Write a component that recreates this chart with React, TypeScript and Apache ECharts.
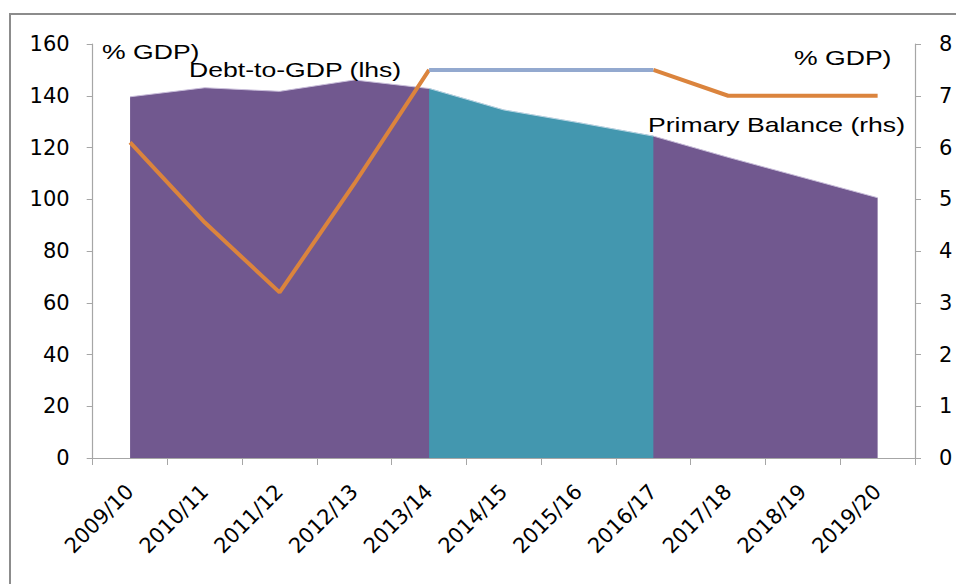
import React, { useEffect, useRef } from "react";
import * as echarts from "echarts";

const categories = [
  "2009/10", "2010/11", "2011/12", "2012/13", "2013/14", "2014/15",
  "2015/16", "2016/17", "2017/18", "2018/19", "2019/20",
];
// Debt-to-GDP (% GDP, left axis)
const debtToGdp = [139.6, 143.1, 141.7, 146.1, 142.8, 134.5, 129.6, 124.4, 116.2, 108.4, 100.6];
// Highlighted projection window of debt (2013/14 - 2016/17)
const debtHighlight = ["-", "-", "-", "-", 142.8, 134.5, 129.6, 124.4, "-", "-", "-"];
// Primary balance (% GDP, right axis)
const primaryBalance = [6.1, 4.55, 3.2, 5.3, 7.5, "-", "-", 7.5, 7.0, 7.0, 7.0];
const primaryHighlight = ["-", "-", "-", "-", 7.5, 7.5, 7.5, 7.5, "-", "-", "-"];
const leftTicks = { min: 0, max: 160, interval: 20 };
const rightTicks = { min: 0, max: 8, interval: 1 };

const PURPLE = "#71588F";
const TEAL = "#4397AF";
const ORANGE = "#DB843D";
const BLUE = "#93A9CF";
const AXIS = "#A6A6A6";
const LABEL_FONT = "DejaVu Sans";
const TEXT_FONT = "Liberation Sans";

export default function App() {
  const ref = useRef<HTMLDivElement>(null);
  useEffect(() => {
    if (!ref.current) return;
    const chart = echarts.init(ref.current, null, { renderer: "svg" });
    const axisLabel = { color: "#000", fontFamily: LABEL_FONT, fontSize: 21 };
    const txt = (text: string, x: number, y: number) => ({
      type: "text",
      x,
      y,
      scaleX: 1.33,
      z: 100,
      style: { text, fill: "#000", font: `20px "${TEXT_FONT}"` },
    });
    chart.setOption({
      animation: false,
      backgroundColor: "#fff",
      grid: { left: 92.7, right: 41, top: 44, bottom: 126 },
      xAxis: {
        type: "category",
        data: categories,
        boundaryGap: true,
        axisLine: { lineStyle: { color: AXIS, width: 1.2 } },
        axisTick: { show: true, length: 7, lineStyle: { color: AXIS }, alignWithLabel: false },
        axisLabel: { ...axisLabel, rotate: 45, margin: 30, interval: 0 },
        splitLine: { show: false },
      },
      yAxis: [
        {
          type: "value",
          position: "left",
          ...leftTicks,
          axisLine: { show: true, lineStyle: { color: AXIS, width: 1.2 } },
          axisTick: { show: true, length: 6, lineStyle: { color: AXIS } },
          axisLabel: { ...axisLabel, margin: 23 },
          splitLine: { show: false },
        },
        {
          type: "value",
          position: "right",
          ...rightTicks,
          axisLine: { show: true, lineStyle: { color: AXIS, width: 1.2 } },
          axisTick: { show: true, length: 6, lineStyle: { color: AXIS } },
          axisLabel: { ...axisLabel, margin: 24 },
          splitLine: { show: false },
        },
      ],
      series: [
        {
          name: "Debt-to-GDP (lhs)",
          type: "line",
          yAxisIndex: 0,
          data: debtToGdp,
          symbol: "none",
          lineStyle: { width: 1, color: "#C9BEDA" },
          areaStyle: { color: PURPLE, opacity: 1 },
          z: 1,
        },
        {
          name: "Debt-to-GDP highlight",
          type: "line",
          yAxisIndex: 0,
          data: debtHighlight,
          symbol: "none",
          lineStyle: { width: 1, color: "#B5D7E2" },
          areaStyle: { color: TEAL, opacity: 1 },
          z: 2,
        },
        {
          name: "Primary Balance (rhs)",
          type: "line",
          yAxisIndex: 1,
          data: primaryBalance,
          symbol: "none",
          lineStyle: { width: 4, color: ORANGE },
          z: 3,
        },
        {
          name: "Primary Balance highlight",
          type: "line",
          yAxisIndex: 1,
          data: primaryHighlight,
          symbol: "none",
          lineStyle: { width: 4, color: BLUE },
          z: 4,
        },
      ],
      graphic: [
        {
          type: "rect",
          shape: { x: 10, y: 14, width: 1000, height: 700 },
          style: { fill: "none", stroke: "#8C8C8C", lineWidth: 2 },
          silent: true,
          z: 0,
        },
        txt("% GDP)", 102, 42),
        txt("Debt-to-GDP (lhs)", 189, 60),
        txt("% GDP)", 794, 48),
        txt("Primary Balance (rhs)", 648, 115),
      ],
    });
    return () => chart.dispose();
  }, []);
  return (
    <div
      ref={ref}
      style={{ position: "absolute", left: 0, top: 0, width: 956, height: 584 }}
    />
  );
}
